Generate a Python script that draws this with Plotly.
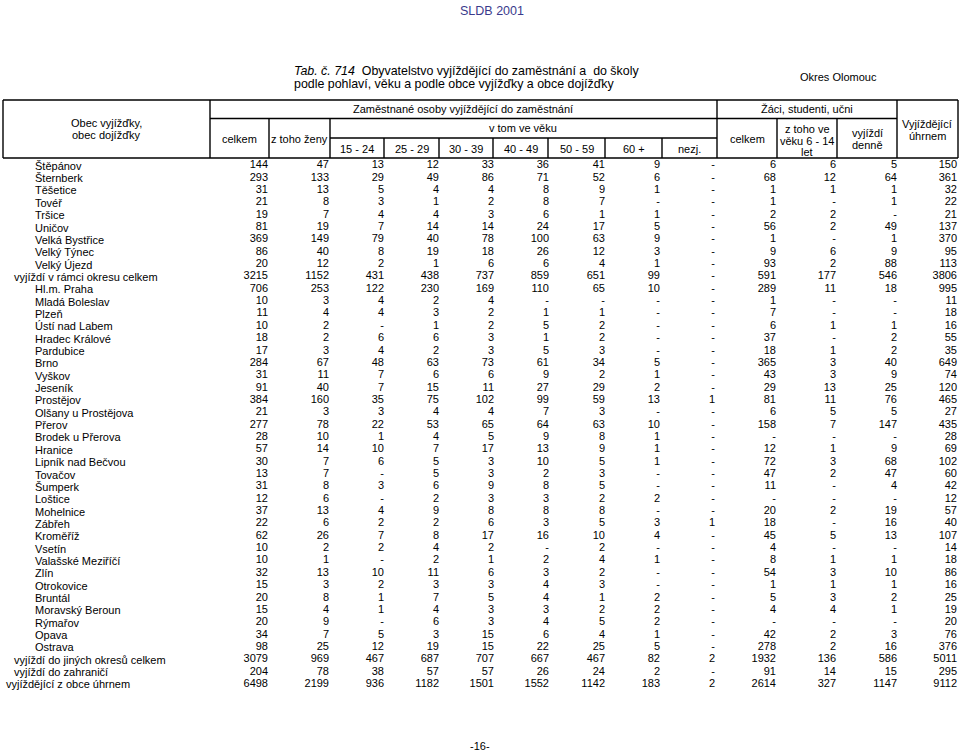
import plotly.graph_objects as go

# rows of the table (obec dojizdky)
names = ['Štěpánov', 'Šternberk', 'Těšetice', 'Tovéř', 'Tršice', 'Uničov', 'Velká Bystřice', 'Velký Týnec',
         'Velký Újezd', 'vyjíždí v rámci okresu celkem', 'Hl.m. Praha', 'Mladá Boleslav', 'Plzeň',
         'Ústí nad Labem', 'Hradec Králové', 'Pardubice', 'Brno', 'Vyškov', 'Jeseník', 'Prostějov',
         'Olšany u Prostějova', 'Přerov', 'Brodek u Přerova', 'Hranice', 'Lipník nad Bečvou', 'Tovačov',
         'Šumperk', 'Loštice', 'Mohelnice', 'Zábřeh', 'Kroměříž', 'Vsetín', 'Valašské Meziříčí', 'Zlín',
         'Otrokovice', 'Bruntál', 'Moravský Beroun', 'Rýmařov', 'Opava', 'Ostrava',
         'vyjíždí do jiných okresů celkem', 'vyjíždí do zahraničí', 'vyjíždějící z obce úhrnem']
sub_totals = ['vyjíždí v rámci okresu celkem', 'vyjíždí do jiných okresů celkem', 'vyjíždí do zahraničí']
grand_total = 'vyjíždějící z obce úhrnem'

# None = '-'
zam_celkem = [144, 293, 31, 21, 19, 81, 369, 86, 20, 3215, 706, 10, 11, 10, 18, 17, 284, 31, 91, 384,
              21, 277, 28, 57, 30, 13, 31, 12, 37, 22, 62, 10, 10, 32, 15, 20, 15, 20, 34, 98, 3079, 204, 6498]
zam_zeny = [47, 133, 13, 8, 7, 19, 149, 40, 12, 1152, 253, 3, 4, 2, 2, 3, 67, 11, 40, 160,
            3, 78, 10, 14, 7, 7, 8, 6, 13, 6, 26, 2, 1, 13, 3, 8, 4, 9, 7, 25, 969, 78, 2199]
vek_15_24 = [13, 29, 5, 3, 4, 7, 79, 8, 2, 431, 122, 4, 4, None, 6, 4, 48, 7, 7, 35,
             3, 22, 1, 10, 6, None, 3, None, 4, 2, 7, 2, None, 10, 2, 1, 1, None, 5, 12, 467, 38, 936]
vek_25_29 = [12, 49, 4, 1, 4, 14, 40, 19, 1, 438, 230, 2, 3, 1, 6, 2, 63, 6, 15, 75,
             4, 53, 4, 7, 5, 5, 6, 2, 9, 2, 8, 4, 2, 11, 3, 7, 4, 6, 3, 19, 687, 57, 1182]
vek_30_39 = [33, 86, 4, 2, 3, 14, 78, 18, 6, 737, 169, 4, 2, 2, 3, 3, 73, 6, 11, 102,
             4, 65, 5, 17, 3, 3, 9, 3, 8, 6, 17, 2, 1, 6, 3, 5, 3, 3, 15, 15, 707, 57, 1501]
vek_40_49 = [36, 71, 8, 8, 6, 24, 100, 26, 6, 859, 110, None, 1, 5, 1, 5, 61, 9, 27, 99,
             7, 64, 9, 13, 10, 2, 8, 3, 8, 3, 16, None, 2, 3, 4, 4, 3, 4, 6, 22, 667, 26, 1552]
vek_50_59 = [41, 52, 9, 7, 1, 17, 63, 12, 4, 651, 65, None, 1, 2, 2, 3, 34, 2, 29, 59,
             3, 63, 8, 9, 5, 3, 5, 2, 8, 5, 10, 2, 4, 2, 3, 1, 2, 5, 4, 25, 467, 24, 1142]
vek_60 = [9, 6, 1, None, 1, 5, 9, 3, 1, 99, 10, None, None, None, None, None, 5, 1, 2, 13,
          None, 10, 1, 1, 1, None, None, 2, None, 3, 4, None, 1, None, None, 2, 2, 2, 1, 5, 82, 2, 183]
vek_nezj = [None] * 19 + [1] + [None] * 9 + [1] + [None] * 10 + [2, None, 2]
zaci_celkem = [6, 68, 1, 1, 2, 56, 1, 9, 93, 591, 289, 1, 7, 6, 37, 18, 365, 43, 29, 81,
               6, 158, None, 12, 72, 47, 11, None, 20, 18, 45, 4, 8, 54, 1, 5, 4, None, 42, 278, 1932, 91, 2614]
zaci_6_14 = [6, 12, 1, None, 2, 2, None, 6, 2, 177, 11, None, None, 1, None, 1, 3, 3, 13, 11,
             5, 7, None, 1, 3, 2, None, None, 2, None, 5, None, 1, 3, 1, 3, 4, None, 2, 2, 136, 14, 327]
zaci_denne = [5, 64, 1, 1, None, 49, 1, 9, 88, 546, 18, None, None, 1, 2, 2, 40, 9, 25, 76,
              5, 147, None, 9, 68, 47, 4, None, 19, 16, 13, None, 1, 10, 1, 2, 1, None, 3, 16, 586, 15, 1147]
uhrnem = [150, 361, 32, 22, 21, 137, 370, 95, 113, 3806, 995, 11, 18, 16, 55, 35, 649, 74, 120, 465,
          27, 435, 28, 69, 102, 60, 42, 12, 57, 40, 107, 14, 18, 86, 16, 25, 19, 20, 76, 376, 5011, 295, 9112]

columns = [zam_celkem, zam_zeny, vek_15_24, vek_25_29, vek_30_39, vek_40_49, vek_50_59, vek_60, vek_nezj,
           zaci_celkem, zaci_6_14, zaci_denne, uhrnem]

# layout in page pixels
W, H = 960, 753
col_right = [268, 329, 384, 439, 494, 549, 605, 660, 715, 776, 836, 897, 957]
row_y = [165.5 + i * 12.35 for i in range(len(names))]
FONT = 'Liberation Sans, Arial, Helvetica, sans-serif'

fig = go.Figure()

for vals, xr in zip(columns, col_right):
    fig.add_trace(go.Scatter(
        x=[xr] * len(vals), y=row_y, mode='text',
        text=['-' if v is None else str(v) for v in vals],
        textposition='middle left', textfont=dict(family=FONT, size=11, color='black'),
        hoverinfo='skip', showlegend=False))

name_x = [6 if n == grand_total else 14 if n in sub_totals else 35 for n in names]
fig.add_trace(go.Scatter(
    x=name_x, y=[y + 1.5 for y in row_y], mode='text', text=names,
    textposition='middle right', textfont=dict(family=FONT, size=11, color='black'),
    hoverinfo='skip', showlegend=False))

# header grid
lw = dict(color='black', width=1.4)
lines = [
    (3, 100, 958, 100), (3, 158, 958, 158), (210, 118.5, 897, 118.5), (330, 138, 717, 138),
    (3, 100, 3, 158), (958, 100, 958, 158), (210, 100, 210, 158), (717, 100, 717, 158), (897, 100, 897, 158),
    (269, 118.5, 269, 158), (330, 118.5, 330, 158), (777, 118.5, 777, 158), (837, 118.5, 837, 158),
]
for xc in [384, 439, 493, 548, 605, 662]:
    lines.append((xc, 138, xc, 158))
for x0, y0, x1, y1 in lines:
    fig.add_shape(type='line', x0=x0, y0=y0, x1=x1, y1=y1, xref='x', yref='y', line=lw)


def label(x, y, txt, size=11, anchor='center', color='black'):
    fig.add_annotation(x=x, y=y, text=txt, showarrow=False, xanchor=anchor, yanchor='middle',
                       font=dict(family=FONT, size=size, color=color), xref='x', yref='y')


label(106, 123, 'Obec vyjížďky,')
label(106, 135, 'obec dojížďky')
label(463, 109, 'Zaměstnané osoby vyjíždějící do zaměstnání')
label(807, 109, 'Žáci, studenti, učni')
label(523, 128, 'v tom ve věku')
label(239, 139, 'celkem')
label(299, 139, 'z toho ženy')
label(747, 139, 'celkem')
label(807, 129, 'z toho ve')
label(807, 140.5, 'věku 6 - 14')
label(807, 152, 'let')
label(867, 133, 'vyjíždí')
label(867, 145, 'denně')
label(927, 124, 'Vyjíždějící')
label(927, 136, 'úhrnem')
age_labels = ['15 - 24', '25 - 29', '30 - 39', '40 - 49', '50 - 59', '60 +', 'nezj.']
age_edges = [330, 384, 439, 493, 548, 605, 662, 717]
for i, t in enumerate(age_labels):
    label((age_edges[i] + age_edges[i + 1]) / 2, 149, t)

# titles
label(492, 11, 'SLDB 2001', size=12.5, color='#3a3a8c')
label(292, 71, '<i>Tab. č. 714</i>  Obyvatelstvo vyjíždějící do zaměstnání a  do školy', size=12.4, anchor='left')
label(292, 83.5, 'podle pohlaví, věku a podle obce vyjížďky a obce dojížďky', size=12.4, anchor='left')
label(838, 77, 'Okres Olomouc', size=11)
label(480, 746, '-16-', size=11)

fig.update_layout(
    width=W, height=H, margin=dict(l=0, r=0, t=0, b=0),
    paper_bgcolor='white', plot_bgcolor='white',
    xaxis=dict(range=[0, W], visible=False, fixedrange=True),
    yaxis=dict(range=[H, 0], visible=False, fixedrange=True),
)
fig.write_html('out.html', config={'displayModeBar': False},
               post_script="document.body.style.margin='0';")
